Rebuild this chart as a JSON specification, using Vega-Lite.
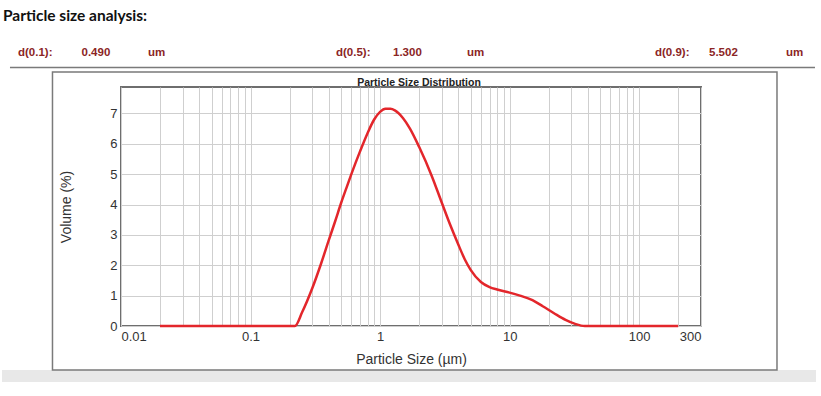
{
  "$schema": "https://vega.github.io/schema/vega-lite/v6.json",
  "width": 580,
  "height": 239,
  "autosize": {"type": "none"},
  "padding": {"left": 121, "top": 87, "right": 120, "bottom": 70},
  "background": "white",
  "title": {
    "text": "Particle size analysis:",
    "anchor": "start",
    "frame": "group",
    "dx": -118,
    "dy": -3,
    "offset": 20,
    "font": "Lato",
    "fontSize": 15.5,
    "fontWeight": "bold",
    "color": "#111111"
  },
  "datasets": {
    "psd": [
      {"size": 0.02, "volume": 0},
      {"size": 0.05, "volume": 0},
      {"size": 0.1, "volume": 0},
      {"size": 0.2, "volume": 0},
      {"size": 0.22, "volume": 0},
      {"size": 0.25, "volume": 0.45},
      {"size": 0.3, "volume": 1.25},
      {"size": 0.35, "volume": 2.05},
      {"size": 0.4, "volume": 2.8},
      {"size": 0.45, "volume": 3.45},
      {"size": 0.5, "volume": 4.05},
      {"size": 0.55, "volume": 4.55},
      {"size": 0.6, "volume": 5.0},
      {"size": 0.7, "volume": 5.75},
      {"size": 0.8, "volume": 6.35},
      {"size": 0.9, "volume": 6.8},
      {"size": 1.0, "volume": 7.05},
      {"size": 1.1, "volume": 7.15},
      {"size": 1.2, "volume": 7.15},
      {"size": 1.3, "volume": 7.1},
      {"size": 1.5, "volume": 6.85},
      {"size": 1.7, "volume": 6.5},
      {"size": 2.0, "volume": 5.9},
      {"size": 2.5, "volume": 4.95},
      {"size": 3.0, "volume": 4.05},
      {"size": 3.5, "volume": 3.3},
      {"size": 4.0, "volume": 2.7},
      {"size": 4.5, "volume": 2.2},
      {"size": 5.0, "volume": 1.85},
      {"size": 6.0, "volume": 1.45},
      {"size": 7.0, "volume": 1.28},
      {"size": 8.0, "volume": 1.2},
      {"size": 10, "volume": 1.1},
      {"size": 12, "volume": 1.0},
      {"size": 15, "volume": 0.85},
      {"size": 18, "volume": 0.65},
      {"size": 22, "volume": 0.42},
      {"size": 27, "volume": 0.2},
      {"size": 32, "volume": 0.07},
      {"size": 38, "volume": 0},
      {"size": 50, "volume": 0},
      {"size": 100, "volume": 0},
      {"size": 200, "volume": 0}
    ],
    "header": [
      {"text": "d(0.1):", "at": 0.001603, "v": 8.98},
      {"text": "0.490", "at": 0.004955, "v": 8.98},
      {"text": "um", "at": 0.01616, "v": 8.98},
      {"text": "d(0.5):", "at": 0.4566, "v": 8.98},
      {"text": "1.300", "at": 1.258, "v": 8.98},
      {"text": "um", "at": 4.688, "v": 8.98},
      {"text": "d(0.9):", "at": 132.4, "v": 8.98},
      {"text": "5.502", "at": 345.8, "v": 8.98},
      {"text": "um", "at": 1359, "v": 8.98}
    ],
    "frame": [{"x1": 0.002959, "x2": 1158, "y1": -1.449, "y2": 8.364}],
    "band": [{"x1": 0.001206, "x2": 2316, "y1": -1.449, "y2": -1.844}],
    "rule": [{"x1": 0.00139, "x2": 2275, "y": 8.512}],
    "caption": [{"text": "Particle Size Distribution", "at": 1.997, "v": 8.018}]
  },
  "config": {
    "view": {"stroke": "#6e6e6e", "strokeWidth": 2},
    "axis": {
      "labelFont": "Liberation Sans",
      "labelFontSize": 13,
      "labelColor": "#333333",
      "titleFont": "Liberation Sans",
      "titleFontSize": 14,
      "titleFontWeight": "normal",
      "titleColor": "#333333",
      "gridColor": "#cfcfcf",
      "gridWidth": 1,
      "gridOpacity": 1,
      "domain": false,
      "ticks": false,
      "labelOverlap": false
    },
    "axisY": {"tickCount": 8}
  },
  "layer": [
    {
      "data": {"name": "psd"},
      "mark": {"type": "line", "color": "#e3262b", "strokeWidth": 2.5, "interpolate": "monotone"},
      "encoding": {
        "x": {
          "field": "size",
          "type": "quantitative",
          "scale": {"type": "log", "domain": [0.01, 300], "nice": false},
          "axis": {
            "title": "Particle Size (µm)",
            "titlePadding": 9,
            "labelPadding": 4,
            "values": [0.01, 0.02, 0.03, 0.04, 0.05, 0.06, 0.07, 0.08, 0.09, 0.1, 0.2, 0.3, 0.4, 0.5, 0.6, 0.7, 0.8, 0.9, 1, 2, 3, 4, 5, 6, 7, 8, 9, 10, 20, 30, 40, 50, 60, 70, 80, 90, 100, 200, 300],
            "labelExpr": "indexof([0.01, 0.1, 1, 10, 100, 300], datum.value) >= 0 ? format(datum.value, '~g') : ''"
          }
        },
        "y": {
          "field": "volume",
          "type": "quantitative",
          "scale": {"domain": [0, 7.87], "nice": false},
          "axis": {
            "title": "Volume (%)",
            "values": [0, 1, 2, 3, 4, 5, 6, 7],
            "labelPadding": 4,
            "titlePadding": 36
          }
        }
      }
    },
    {
      "data": {"name": "band"},
      "mark": {"type": "rect", "fill": "#e8e8e8", "clip": false},
      "encoding": {
        "x": {"field": "x1", "type": "quantitative", "title": "Particle Size (µm)"},
        "x2": {"field": "x2"},
        "y": {"field": "y1", "type": "quantitative", "title": "Volume (%)", "axis": {"values": [0, 1, 2, 3, 4, 5, 6, 7], "labelPadding": 4, "titlePadding": 36}},
        "y2": {"field": "y2"}
      }
    },
    {
      "data": {"name": "frame"},
      "mark": {"type": "rect", "fill": null, "fillOpacity": 0, "stroke": "#7a7a7a", "strokeWidth": 1.5, "clip": false},
      "encoding": {
        "x": {"field": "x1", "type": "quantitative", "title": "Particle Size (µm)"},
        "x2": {"field": "x2"},
        "y": {"field": "y1", "type": "quantitative", "title": "Volume (%)", "axis": {"values": [0, 1, 2, 3, 4, 5, 6, 7], "labelPadding": 4, "titlePadding": 36}},
        "y2": {"field": "y2"}
      }
    },
    {
      "data": {"name": "rule"},
      "mark": {"type": "rule", "stroke": "#7a7a7a", "strokeWidth": 1.5, "clip": false},
      "encoding": {
        "x": {"field": "x1", "type": "quantitative", "title": "Particle Size (µm)"},
        "x2": {"field": "x2"},
        "y": {"field": "y", "type": "quantitative", "title": "Volume (%)", "axis": {"values": [0, 1, 2, 3, 4, 5, 6, 7], "labelPadding": 4, "titlePadding": 36}}
      }
    },
    {
      "data": {"name": "header"},
      "mark": {"type": "text", "align": "left", "baseline": "middle", "font": "Liberation Sans", "fontSize": 11.5, "fontWeight": "bold", "color": "#8b2525", "clip": false},
      "encoding": {
        "x": {"field": "at", "type": "quantitative", "title": "Particle Size (µm)"},
        "y": {"field": "v", "type": "quantitative", "title": "Volume (%)", "axis": {"values": [0, 1, 2, 3, 4, 5, 6, 7], "labelPadding": 4, "titlePadding": 36}},
        "text": {"field": "text"}
      }
    },
    {
      "data": {"name": "caption"},
      "mark": {"type": "text", "align": "center", "baseline": "middle", "font": "Liberation Sans", "fontSize": 10.5, "fontWeight": "bold", "color": "#222222", "clip": false},
      "encoding": {
        "x": {"field": "at", "type": "quantitative", "title": "Particle Size (µm)"},
        "y": {"field": "v", "type": "quantitative", "title": "Volume (%)", "axis": {"values": [0, 1, 2, 3, 4, 5, 6, 7], "labelPadding": 4, "titlePadding": 36}},
        "text": {"field": "text"}
      }
    }
  ]
}
